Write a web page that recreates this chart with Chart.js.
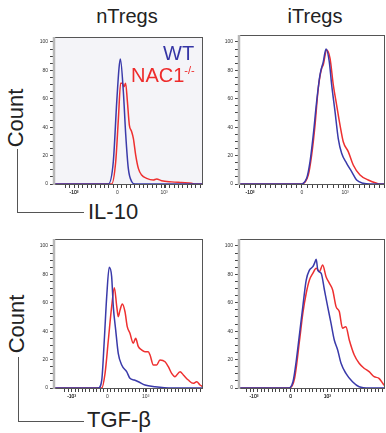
<!DOCTYPE html>
<html>
<head>
    <title>nTregs / iTregs IL-10 and TGF-beta histograms</title>
    <script src="https://cdn.jsdelivr.net/npm/chart.js@4.4.0/dist/chart.umd.min.js"></script>
    <style>
        body {
            margin: 0;
            padding: 0;
            background: #ffffff;
            font-family: "Liberation Sans", Arial, sans-serif;
        }
        #fig {
            position: relative;
            width: 386px;
            height: 433px;
            overflow: hidden;
        }
        canvas {
            position: absolute;
        }
        .txt {
            position: absolute;
            line-height: 1;
            white-space: nowrap;
            color: #222;
        }
        .title { font-size: 20px; transform: translateX(-50%); }
        .count { font-size: 22px; transform: translate(-50%, -50%) rotate(-90deg); }
        .axisname { font-size: 22px; }
        .bracket {
            position: absolute;
            border-left: 1.5px solid #555;
            border-bottom: 1.5px solid #555;
        }
        .legend { font-size: 20px; }
    </style>
</head>
<body>
<div id="fig">
    <div class="txt title" style="left:127px; top:6px;">nTregs</div>
    <div class="txt title" style="left:315px; top:6px;">iTregs</div>

    <div class="txt count" style="left:16px; top:118px;">Count</div>
    <div class="bracket" style="left:17px; top:149px; width:66px; height:63px;"></div>
    <div class="txt axisname" style="left:88px; top:201px;">IL-10</div>

    <div class="txt count" style="left:17px; top:324px;">Count</div>
    <div class="bracket" style="left:18px; top:357px; width:65px; height:64px;"></div>
    <div class="txt axisname" style="left:87px; top:409px;">TGF-β</div>

    <canvas id="c1" width="177" height="167" style="left:27px; top:36px;"></canvas>
    <canvas id="c2" width="174" height="169" style="left:212px; top:34px;"></canvas>
    <canvas id="c3" width="177" height="169" style="left:27px; top:238px;"></canvas>
    <canvas id="c4" width="174" height="169" style="left:212px; top:238px;"></canvas>

    <div class="txt legend" style="left:163px; top:43px; color:#3535a5;">WT</div>
    <div class="txt legend" style="left:131px; top:65px; color:#ee2b2b;">NAC1<sup style="font-size:11px; vertical-align:8px;">-/-</sup></div>
</div>

<script>
    // x positions are in display channel units (0-100 across the plot box)
    const xTickLabels = ['-10³', '0', '10³'];
    const yTickLabels = [0, 20, 40, 60, 80, 100];

    // nTregs, IL-10
    const nIl10TickPos = [14, 43, 74];
    const nIl10WtX = [0, 36.9, 40.2, 42.5, 44.0, 44.9, 46.9, 48.5, 50.2, 52.5, 54.7, 100];
    const nIl10WtY = [0, 0, 15.7, 58, 81.5, 88, 65, 34.5, 11, 1.6, 0, 0];
    const nIl10KoX = [0, 39.1, 41.8, 43.6, 45.1, 46.2, 47.3, 48.4, 49.6, 50.9, 52.4, 53.6, 55.1, 56.9, 59.1, 62.4, 66.9, 69.1, 72.4, 79.1, 85.8, 92.4, 94.7, 100];
    const nIl10KoY = [0, 0, 15.7, 46, 71, 71, 68.5, 71, 58, 41.5, 37, 32, 20.5, 11, 6.3, 4, 2.8, 3.5, 2.3, 1.5, 1, 0.5, 0, 0];

    // iTregs, IL-10
    const iIl10TickPos = [8.2, 43.5, 72.8];
    const iIl10WtX = [0, 42.2, 46.7, 49.0, 51.2, 53.5, 55.8, 58.0, 59.9, 62.1, 63.7, 66.0, 68.2, 70.5, 73.9, 77.3, 80.7, 85.2, 89.8, 100];
    const iIl10WtY = [0, 0, 4, 15.7, 34.5, 58, 77, 86, 95, 86, 70, 51, 32, 21.6, 14.6, 8.7, 2.8, 0.5, 0, 0];
    const iIl10KoX = [0, 43.3, 47.8, 50.1, 52.4, 54.6, 56.9, 58.0, 60.3, 62.6, 64.8, 67.1, 69.4, 71.6, 75.0, 78.4, 83.0, 88.6, 94.4, 96.6, 100];
    const iIl10KoY = [0, 0, 6.3, 20.4, 41.5, 67.4, 81.5, 84, 94.4, 88.5, 70, 55.6, 41.5, 29.8, 22.8, 13.4, 6.3, 2.8, 0.5, 0, 0];

    // nTregs, TGF-beta
    const nTgfTickPos = [12.4, 36.2, 61.8];
    const nTgfWtX = [0, 30.2, 32.5, 34.2, 35.8, 37.5, 39.1, 40.2, 41.8, 43.5, 45.8, 49.1, 51.3, 54.2, 56.9, 61.3, 68.0, 79.1, 100];
    const nTgfWtY = [0, 0, 5.6, 33.8, 64.3, 85, 78.4, 57.3, 40.8, 24.4, 16.2, 11.5, 6.8, 5.6, 4.4, 2.1, 0.9, 0, 0];
    const nTgfKoX = [0, 32.5, 34.7, 36.9, 39.1, 40.9, 42.5, 43.5, 44.7, 46.2, 48.0, 49.5, 51.3, 53.5, 55.1, 56.9, 59.1, 61.3, 63.5, 64.7, 66.9, 69.1, 71.3, 74.7, 76.9, 79.1, 81.3, 84.7, 86.9, 90.2, 93.5, 95.8, 98.0, 100];
    const nTgfKoY = [0, 0, 10.3, 33.8, 57.3, 70.6, 57.3, 50.2, 54.9, 59.2, 53.7, 43.2, 38.5, 31.5, 35, 29.1, 26.8, 25.6, 25.6, 23.2, 16.2, 16.2, 19.7, 18.5, 15, 10.3, 8, 11.5, 9.2, 5.6, 3.3, 4.4, 2.1, 0.9];

    // iTregs, TGF-beta
    const iTgfTickPos = [10.8, 35.8, 60.8];
    const iTgfWtX = [0, 34.0, 37.4, 39.7, 41.9, 44.1, 46.4, 48.6, 50.9, 52.0, 53.2, 54.3, 56.6, 58.8, 61.0, 63.3, 65.5, 67.8, 70.1, 73.4, 77.9, 82.4, 89.2, 100];
    const iTgfWtY = [0, 0, 4.4, 19.7, 38.5, 57.3, 76, 83, 85.4, 87.7, 90.6, 83, 80.7, 69, 57.3, 45.5, 33.8, 26.8, 17.4, 10.3, 4.4, 0.9, 0, 0];
    const iTgfKoX = [0, 35.1, 38.5, 41.9, 44.1, 46.4, 48.6, 50.9, 53.2, 55.4, 57.6, 59.9, 62.2, 64.4, 66.7, 68.9, 71.1, 73.4, 75.7, 79.1, 82.4, 85.8, 89.2, 92.6, 95.9, 99.3, 100];
    const iTgfKoY = [0, 0, 6.8, 33.8, 52.6, 66.7, 76, 80.7, 84.3, 82, 86.6, 78.4, 73.7, 69, 57.3, 53.8, 42.1, 43.2, 33.8, 23.2, 17.4, 13.9, 11.5, 8, 6.8, 2.1, 1.5];

    const WT_COLOR = 'rgb(58, 58, 170)';
    const KO_COLOR = 'rgb(238, 48, 48)';

    function toPoints(xs, ys) {
        return xs.map((x, i) => ({ x: x, y: ys[i] }));
    }

    // frame around the plot box, thick grey left axis like the cytometer export
    const framePlugin = {
        id: 'frame',
        beforeDraw(chart, args, opts) {
            const a = chart.chartArea;
            const ctx = chart.ctx;
            if (opts.shade) {
                ctx.save();
                ctx.fillStyle = opts.shade;
                ctx.fillRect(a.left, a.top, a.right - a.left, a.bottom - a.top);
                ctx.restore();
            }
        },
        afterDraw(chart) {
            const a = chart.chartArea;
            const ctx = chart.ctx;
            ctx.save();
            ctx.strokeStyle = '#555';
            ctx.lineWidth = 1;
            ctx.strokeRect(a.left + 0.5, a.top + 0.5, a.right - a.left - 1, a.bottom - a.top - 1);
            ctx.strokeStyle = '#b8b8b8';
            ctx.lineWidth = 2.5;
            ctx.beginPath();
            ctx.moveTo(a.left + 1, a.top);
            ctx.lineTo(a.left + 1, a.bottom);
            ctx.stroke();
            ctx.restore();
        }
    };

    function makePanel(id, wtX, wtY, koX, koY, tickPos, yMax, shade) {
        const step = (tickPos[1] - tickPos[0]) / 10;
        const xTicks = [];
        for (let v = tickPos[0] - 2 * step; v <= 100; v += step) {
            xTicks.push(v);
        }
        tickPos.forEach(p => xTicks.push(p));

        new Chart(document.getElementById(id), {
            type: 'line',
            data: {
                datasets: [
                    {
                        label: 'WT',
                        data: toPoints(wtX, wtY),
                        borderColor: WT_COLOR,
                        borderWidth: 1.5,
                        pointRadius: 0,
                        cubicInterpolationMode: 'monotone',
                        fill: false
                    },
                    {
                        label: 'NAC1-/-',
                        data: toPoints(koX, koY),
                        borderColor: KO_COLOR,
                        borderWidth: 1.5,
                        pointRadius: 0,
                        cubicInterpolationMode: 'monotone',
                        fill: false
                    }
                ]
            },
            options: {
                responsive: false,
                animation: false,
                devicePixelRatio: 1,
                layout: { padding: { top: 1, right: 1, left: 0, bottom: 0 } },
                plugins: {
                    legend: { display: false },
                    tooltip: { enabled: false },
                    frame: { shade: shade }
                },
                scales: {
                    x: {
                        type: 'linear',
                        min: 0,
                        max: 100,
                        afterFit: s => {
                            s.height = 18;
                            s.paddingLeft = 0;
                            s.paddingRight = 0;
                        },
                        afterBuildTicks: s => {
                            s.ticks = xTicks.map(v => ({ value: v }));
                        },
                        ticks: {
                            autoSkip: false,
                            maxRotation: 0,
                            font: { size: 5, family: 'Liberation Sans' },
                            color: '#333',
                            padding: 2,
                            callback: v => {
                                const i = tickPos.indexOf(v);
                                return i >= 0 ? xTickLabels[i] : '';
                            }
                        },
                        grid: { drawOnChartArea: false, tickLength: 3, tickColor: '#444' },
                        border: { display: false }
                    },
                    y: {
                        type: 'linear',
                        min: -0.7,
                        max: yMax,
                        afterFit: s => {
                            s.width = 26;
                            s.paddingTop = 0;
                            s.paddingBottom = 0;
                        },
                        afterBuildTicks: s => {
                            const t = [];
                            for (let v = 0; v <= 100; v += 5) t.push({ value: v });
                            s.ticks = t;
                        },
                        ticks: {
                            autoSkip: false,
                            font: { size: 5, family: 'Liberation Sans' },
                            color: '#333',
                            padding: 2,
                            callback: v => yTickLabels.includes(v) ? String(v) : ''
                        },
                        grid: { drawOnChartArea: false, tickLength: 3, tickColor: '#444' },
                        border: { display: false }
                    }
                }
            },
            plugins: [framePlugin]
        });
    }

    makePanel('c1', nIl10WtX, nIl10WtY, nIl10KoX, nIl10KoY, nIl10TickPos, 103.5, '#f4f4f8');
    makePanel('c2', iIl10WtX, iIl10WtY, iIl10KoX, iIl10KoY, iIl10TickPos, 104.9, null);
    makePanel('c3', nTgfWtX, nTgfWtY, nTgfKoX, nTgfKoY, nTgfTickPos, 104.9, null);
    makePanel('c4', iTgfWtX, iTgfWtY, iTgfKoX, iTgfKoY, iTgfTickPos, 104.9, null);
</script>
</body>
</html>
